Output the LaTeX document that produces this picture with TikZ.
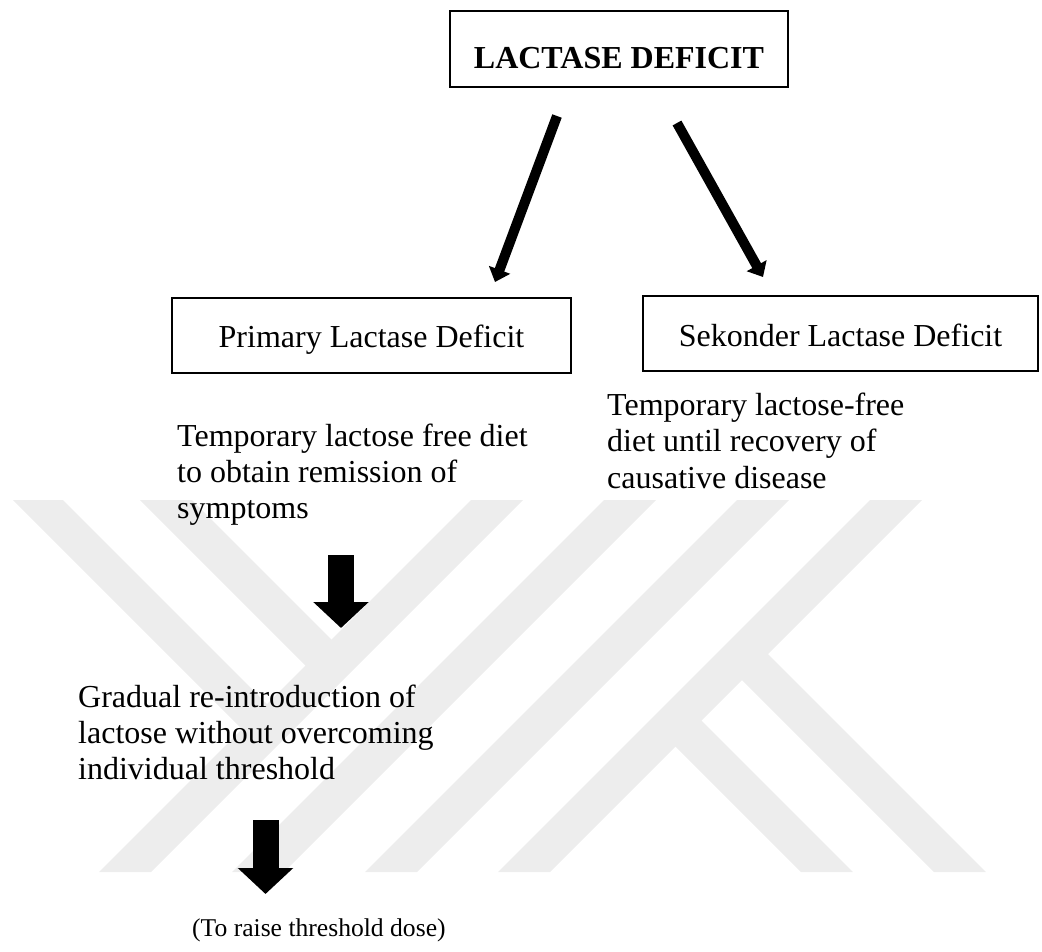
\documentclass[tikz,border=0pt]{standalone}
\usepackage{fontspec}
\setmainfont{Liberation Serif}
\usetikzlibrary{arrows.meta}
\definecolor{wm}{RGB}{237,237,237}
\begin{document}
\begin{tikzpicture}[x=1pt,y=-1pt,
  txt/.style={inner sep=0pt, font=\fontsize{32}{36}\selectfont, align=left, anchor=base west},
  boxnode/.style={draw, line width=2pt, inner sep=0pt, font=\fontsize{32}{36}\selectfont, anchor=base, align=center},
  thinarrow/.style={line width=10pt, -{Triangle[width=22pt,length=13pt]}},
  blockarrow/.style={line width=26pt, -{Triangle[width=54pt,length=26pt]}},
  wmark/.style={fill=wm, draw=none}]
\useasboundingbox (0,0) rectangle (1042,951);
% watermark
\fill[wmark] (13,500) -- (63,500) -- (281.5,718.5) -- (256.5,743.5) -- cycle;
\fill[wmark] (140,500) -- (192,500) -- (346,654) -- (320,680) -- cycle;
\fill[wmark] (471,500) -- (523,500) -- (151,872) -- (99,872) -- cycle;
\fill[wmark] (604,500) -- (656,500) -- (284,872) -- (232,872) -- cycle;
\fill[wmark] (737,500) -- (789,500) -- (417,872) -- (365,872) -- cycle;
\fill[wmark] (870,500) -- (922,500) -- (550,872) -- (498,872) -- cycle;
\fill[wmark] (755,641) -- (986,872) -- (934,872) -- (729,667) -- cycle;
\fill[wmark] (688.5,707.5) -- (853,872) -- (801,872) -- (662.5,733.5) -- cycle;
% boxes
\node[boxnode, minimum width=338pt, text height=57pt, text depth=19pt,
      font=\bfseries\fontsize{32}{36}\selectfont] (top) at (619,68) {LACTASE DEFICIT};
\node[boxnode, minimum width=399pt, text height=49pt, text depth=26pt] (prim) at (371.5,347) {Primary Lactase Deficit};
\node[boxnode, minimum width=395pt, text height=50pt, text depth=25pt] (sek) at (840.5,346) {Sekonder Lactase Deficit};
% texts (anchor = baseline of the last line)
\node[txt] (ldiet) at (177,518) {Temporary lactose free diet\\to obtain remission of\\symptoms};
\node[txt, font=\fontsize{32}{36.5}\selectfont] (rdiet) at (607,488) {Temporary lactose-free\\diet until recovery of\\causative disease};
\node[txt] (grad) at (78,779) {Gradual re-introduction of\\lactose without overcoming\\individual threshold};
\node[txt, font=\fontsize{25.6}{30}\selectfont] (raise) at (192,936) {(To raise threshold dose)};
% arrows
\coordinate (la1) at (557,116);
\coordinate (la2) at (495,282);
\coordinate (ra1) at (677,123);
\coordinate (ra2) at (763,277);
\coordinate (d1a) at (341,555);
\coordinate (d1b) at (341,628);
\coordinate (d2a) at (265.5,820);
\coordinate (d2b) at (265.5,894);
\draw[thinarrow] (la1) -- (la2);
\draw[thinarrow] (ra1) -- (ra2);
\draw[blockarrow] (d1a) -- (d1b);
\draw[blockarrow] (d2a) -- (d2b);
\end{tikzpicture}
\end{document}
